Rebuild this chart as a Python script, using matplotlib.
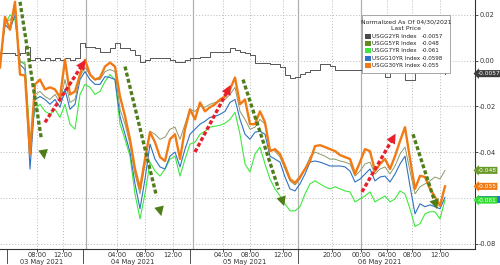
import numpy as np
import matplotlib
matplotlib.use('Agg')
from matplotlib import pyplot as plt
from matplotlib.patches import Rectangle

# normalized yield change since 04/30/2021, in thousandths (-55.0 -> -0.055)
# one sample per slot of the intraday axis
usgg2 = [3.5, 3.5, 3.5, 2.6, 3.5, 6.1, 0.4, 1.3, 0.4, 1.3,
         0.4, 1.3, 0.4, 1.3, 0.4, 1.3, 7.8, 6.1, 6.1, 5.7,
         3.9, 3.9, 5.7, 7.8, 5.7, 5.7, 4.8, 2.6, -0.4, 0.4,
         1.3, 1.3, 1.3, 1.3, 0.4, -0.4, -0.4, 0.4, 1.3, 1.3,
         1.7, 1.7, 3.9, 3.9, 3.9, 3.9, 5.7, 4.8, 3.9, 3.5,
         2.6, -0.9, -0.9, -0.9, -1.3, -1.7, -2.6, -6.1, -7.4, -7.0,
         -5.7, -4.8, -3.9, -3.9, -1.7, -1.7, -2.2, -3.9, -3.9, -3.9,
         -3.9, -3.9, -3.9, -4.3, -4.3, -4.3, -4.3, -7.0, -4.3, -4.3,
         -4.3, -8.3, -8.3, -4.8, -4.8, -4.8, -4.8, -5.2, -5.2, -5.7]
usgg5 = [-1.7, 17.0, 17.8, 21.3, -0.4, -1.7, -38.7, -14.8, -13.5, -15.7,
         -17.0, -14.8, -18.3, -8.3, -18.3, -17.0, -7.0, -3.0, -6.1, -8.3,
         -8.3, -4.8, -3.9, -4.8, -21.3, -27.8, -36.5, -49.6, -58.3, -45.2,
         -30.9, -32.2, -34.4, -33.5, -30.0, -29.1, -34.4, -27.8, -21.3, -22.2,
         -20.0, -20.4, -19.1, -18.3, -17.8, -17.0, -14.8, -11.7, -22.2, -25.7,
         -30.0, -29.1, -25.7, -27.8, -38.7, -39.6, -42.2, -47.4, -52.6, -54.4,
         -51.8, -47.4, -42.2, -40.0, -40.9, -41.8, -43.1, -43.1, -43.9, -44.4,
         -45.2, -50.5, -48.3, -45.2, -44.4, -49.6, -47.4, -46.5, -49.6, -46.1,
         -40.9, -37.8, -48.3, -58.3, -55.2, -53.9, -52.6, -50.9, -51.8, -48.0]
usgg7 = [-0.4, 15.7, 20.0, 17.8, -0.4, -0.9, -34.4, -21.3, -19.1, -22.2,
         -23.5, -21.3, -24.8, -19.1, -27.8, -30.0, -14.8, -10.4, -11.7, -14.8,
         -13.5, -9.1, -6.1, -8.3, -27.8, -34.4, -41.8, -58.3, -69.2, -58.3,
         -44.4, -48.3, -50.5, -47.4, -43.1, -41.8, -50.5, -43.1, -36.5, -35.7,
         -32.2, -30.9, -29.1, -28.7, -28.3, -27.4, -25.7, -22.6, -32.2, -45.2,
         -48.7, -40.9, -37.8, -45.2, -51.8, -56.1, -59.2, -62.6, -65.7, -65.7,
         -63.9, -58.3, -53.9, -52.6, -53.9, -55.2, -56.1, -55.2, -56.1, -57.0,
         -57.4, -61.8, -60.5, -59.2, -57.4, -61.8, -60.5, -59.2, -61.8, -60.5,
         -57.0, -58.3, -64.8, -72.6, -71.3, -67.0, -66.1, -66.1, -69.2, -61.0]
usgg10 = [-0.4, 15.7, 13.5, 20.0, -1.7, -3.9, -47.4, -17.0, -15.7, -17.0,
          -19.1, -17.0, -20.4, -12.6, -21.3, -19.1, -8.3, -4.8, -8.3, -10.4,
          -10.4, -7.0, -7.4, -8.3, -24.4, -32.2, -40.0, -53.9, -64.8, -51.8,
          -36.5, -43.1, -46.5, -47.4, -41.8, -40.0, -46.5, -38.7, -32.2, -30.0,
          -27.8, -26.5, -24.8, -24.4, -23.5, -22.2, -18.3, -17.0, -25.7, -32.2,
          -34.4, -31.3, -30.9, -32.2, -41.8, -43.1, -44.4, -50.9, -56.1, -57.0,
          -53.9, -49.6, -44.4, -43.9, -44.4, -45.2, -46.1, -46.1, -46.1, -46.5,
          -48.3, -53.1, -51.8, -49.6, -47.4, -52.6, -50.9, -50.5, -53.1, -49.6,
          -45.2, -41.8, -54.8, -67.0, -62.6, -63.9, -63.1, -63.9, -64.8, -59.8]
usgg30 = [-3.0, 19.1, 13.5, 25.7, -6.1, -6.5, -40.9, -10.4, -8.3, -12.6,
          -11.7, -12.6, -16.1, 0.4, -14.8, -13.5, -6.1, 0.4, -6.1, -8.3,
          -7.4, -2.6, -0.9, -2.6, -15.7, -24.3, -34.4, -47.4, -56.1, -43.0,
          -31.3, -35.7, -42.2, -43.9, -34.4, -32.2, -43.0, -30.0, -21.3, -25.7,
          -18.3, -22.2, -20.4, -19.1, -17.0, -15.7, -12.6, -7.4, -19.1, -17.0,
          -27.8, -27.8, -22.2, -27.0, -39.6, -38.7, -40.9, -46.1, -51.8, -53.5,
          -50.9, -47.4, -43.9, -37.4, -37.0, -37.8, -38.7, -39.6, -41.3, -42.2,
          -43.0, -49.6, -44.4, -38.7, -39.6, -48.3, -45.2, -43.0, -47.4, -41.8,
          -35.2, -29.1, -43.0, -56.1, -50.4, -50.9, -56.1, -59.6, -63.5, -55.0]

names = ['USGG2YR Index', 'USGG5YR Index', 'USGG7YR Index', 'USGG10YR Index', 'USGG30YR Index']
last = ['-0.0057', '-0.048', '-0.061', '-0.0598', '-0.055']
colors = ['#4a4a4a', '#5f8c1e', '#3ee83e', '#2f72c4', '#f27a14']

tick_pos = [7.4, 12.6, 23.4, 29, 34.6, 44.6, 50, 56.6, 66.4, 72.2, 77.4, 82.4, 88]
tick_lab = ['08:00', '12:00', '04:00', '08:00', '12:00', '04:00', '08:00', '12:00',
            '20:00', '00:00', '04:00', '08:00', '12:00']
day_sep = [1.4, 16.5, 38, 59.5]
day_lines = [17.2, 38.6, 59.6, 72.2]
day_pos = [8.4, 26.5, 49, 76]
day_lab = ['03 May 2021', '04 May 2021', '05 May 2021', '06 May 2021']

# trend arrows (x slot, value) start -> end
arrows = [((4, 25.7), (9, -44.4), 'g'), ((9, -27.0), (17.4, 1.3), 'r'),
          ((25, -2.6), (32.4, -69.2), 'g'), ((39, -40.0), (46.4, -9.6), 'r'),
          ((48.6, -8.3), (57, -64.8), 'g'), ((72.4, -57.4), (79.4, -30.9), 'r'),
          ((82.6, -32.2), (87.6, -66.1), 'g')]

t = np.arange(len(usgg30))
s = 1000.0

fig = plt.figure(figsize=(5, 2.65), dpi=100)
ax = fig.add_axes([0, 0.062, 0.95, 0.938])

ax.plot(t, np.array(usgg2) / s, color='#555555', lw=0.7, drawstyle='steps-post', zorder=3)
ax.plot(t, np.array(usgg7) / s, color=colors[2], lw=0.8, zorder=3)
ax.plot(t, np.array(usgg10) / s, color=colors[3], lw=0.8, zorder=3)
ax.plot(t, np.array(usgg5) / s, color='#8a9a6a', lw=0.7, zorder=3)
ax.plot(t, np.array(usgg30) / s, color=colors[4], lw=1.7, zorder=4)

arrow_col = {'g': '#4f7d1a', 'r': '#e8202c'}
for (x0, y0), (x1, y1), c in arrows:
    y0, y1 = y0 / s, y1 / s
    xm, ym = x0 + 0.85 * (x1 - x0), y0 + 0.85 * (y1 - y0)
    ax.plot([x0, xm], [y0, ym], color=arrow_col[c], lw=2.4, ls=(0, (1.2, 0.7)),
            dash_capstyle='butt', zorder=5)
    ax.annotate('', xy=(x1, y1), xytext=(xm - 0.1 * (x1 - x0), ym - 0.1 * (y1 - y0)),
                arrowprops=dict(arrowstyle='-|>,head_length=0.7,head_width=0.35',
                                color=arrow_col[c], lw=0, mutation_scale=10), zorder=5)

ax.set_xlim(0, 95)
ax.set_ylim(-0.0822, 0.0265)
ax.yaxis.tick_right()
ax.set_yticks([0.02, 0.0, -0.02, -0.04, -0.06, -0.08])
# -0.06 sits under the value tags
ax.set_yticklabels(['0.02', '0.00', '-0.02', '-0.04', '', '-0.08'])
ax.set_xticks(tick_pos)
ax.set_xticklabels(tick_lab)
ax.tick_params(axis='both', labelsize=4.8, colors='#333333', length=2, width=0.6, pad=1)
ax.tick_params(axis='x', pad=0.2)
for sp in ['top', 'left']:
    ax.spines[sp].set_visible(False)
for sp in ['bottom', 'right']:
    ax.spines[sp].set_color('#333333')
    ax.spines[sp].set_linewidth(0.8)

for y in [0.02, 0.0, -0.02, -0.04, -0.06, -0.08]:
    ax.axhline(y, color='#b8b8b8', lw=0.7, ls=(0, (1, 2)), zorder=1)
for x in tick_pos:
    ax.axvline(x, color='#b8b8b8', lw=0.7, ls=(0, (1, 2)), zorder=1)
for x in day_lines:
    ax.axvline(x, color='#b0b0b0', lw=0.9, zorder=1)

trans = ax.get_xaxis_transform()
for x in day_sep:
    ax.plot([x, x], [0, -0.06], color='#333333', lw=0.6, transform=trans, clip_on=False)
dtrans = matplotlib.transforms.blended_transform_factory(ax.transData, fig.transFigure)
for x, lab in zip(day_pos, day_lab):
    ax.text(x, 0.0, lab, transform=dtrans, ha='center', va='bottom', fontsize=4.8, color='#333333')

# value tags on the right axis (10YR tag sits under the 7YR one)
tags = [(-0.0057, '-0.0057', '#3c3c3c'), (-0.048, '-0.048', '#6c9a2a'),
        (-0.055, '-0.055', '#f27a14'), (-0.061, '-0.061', '#33dd33')]
for y, lab, c in tags:
    ax.text(1.005, y, lab, transform=ax.get_yaxis_transform(), fontsize=4.2, color='white',
            va='center', ha='left', clip_on=False, zorder=10,
            bbox=dict(boxstyle='larrow,pad=0.18', fc=c, ec='none'))
ax.add_patch(Rectangle((1.004, -0.0598 - 0.0025), 0.05, 0.003, transform=ax.get_yaxis_transform(),
                       fc=colors[3], ec='none', clip_on=False, zorder=9))

# legend box
ax.add_patch(Rectangle((0.762, 0.708), 0.185, 0.232, transform=ax.transAxes,
                       fc='white', ec='#999999', lw=0.6, zorder=8))
ax.text(0.855, 0.912, 'Normalized As Of 04/30/2021', transform=ax.transAxes, ha='center',
        va='center', fontsize=4.4, color='#222222', zorder=9)
ax.text(0.855, 0.884, 'Last Price', transform=ax.transAxes, ha='center', va='center',
        fontsize=4.4, color='#222222', zorder=9)
for i in range(5):
    yy = 0.855 - i * 0.03
    ax.add_patch(Rectangle((0.768, yy - 0.01), 0.012, 0.02, transform=ax.transAxes,
                           fc=colors[i], ec='none', zorder=9))
    ax.text(0.784, yy, names[i], transform=ax.transAxes, va='center', fontsize=4.1,
            color='#222222', zorder=9)
    ax.text(0.888, yy, last[i], transform=ax.transAxes, va='center', fontsize=4.1,
            color='#222222', zorder=9)

plt.savefig('out.png', dpi=100)
